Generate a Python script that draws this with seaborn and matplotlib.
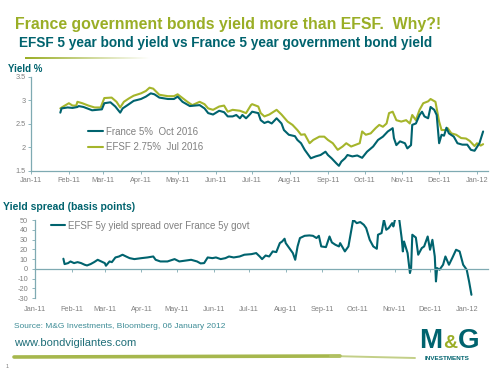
import numpy as np
import pandas as pd
import seaborn as sns
import matplotlib.pyplot as plt
import matplotlib.dates as mdates
from matplotlib.ticker import FuncFormatter, MultipleLocator
from matplotlib.colors import LinearSegmentedColormap

# values
france_dates = ["2011-01-25", "2011-01-26", "2011-01-31", "2011-02-04", "2011-02-08", "2011-02-09",
                "2011-02-13", "2011-02-16", "2011-02-20", "2011-02-24", "2011-02-28", "2011-03-02",
                "2011-03-07", "2011-03-11", "2011-03-15", "2011-03-17", "2011-03-21", "2011-03-26",
                "2011-04-01", "2011-04-05", "2011-04-09", "2011-04-12", "2011-04-16", "2011-04-23",
                "2011-04-28", "2011-05-01", "2011-05-05", "2011-05-11", "2011-05-19", "2011-05-23",
                "2011-05-26", "2011-05-30", "2011-06-04", "2011-06-08", "2011-06-11", "2011-06-15",
                "2011-06-18", "2011-06-21", "2011-06-23", "2011-06-26", "2011-06-29", "2011-07-01",
                "2011-07-06", "2011-07-08", "2011-07-11", "2011-07-14", "2011-07-17", "2011-07-21",
                "2011-07-25", "2011-07-27", "2011-07-31", "2011-08-05", "2011-08-07", "2011-08-10",
                "2011-08-13", "2011-08-18", "2011-08-22", "2011-08-26", "2011-08-30", "2011-09-01",
                "2011-09-04", "2011-09-08", "2011-09-10", "2011-09-12", "2011-09-15", "2011-09-17",
                "2011-09-21", "2011-09-25", "2011-09-29", "2011-10-03", "2011-10-08", "2011-10-12",
                "2011-10-16", "2011-10-20", "2011-10-24", "2011-10-25", "2011-10-27", "2011-10-30",
                "2011-11-03", "2011-11-05", "2011-11-08", "2011-11-09", "2011-11-12", "2011-11-15",
                "2011-11-17", "2011-11-19", "2011-11-22", "2011-11-24", "2011-11-27", "2011-11-29",
                "2011-12-01", "2011-12-03", "2011-12-05", "2011-12-07", "2011-12-09", "2011-12-13",
                "2011-12-16", "2011-12-20", "2011-12-24", "2011-12-27", "2011-12-30", "2012-01-03",
                "2012-01-06"]
france_yield = [2.74, 2.83, 2.85, 2.84, 2.86, 2.88,
                2.86, 2.83, 2.79, 2.80, 2.81, 2.94,
                2.96, 2.87, 2.74, 2.83, 2.90, 2.99,
                3.03, 3.08, 3.15, 3.13, 3.06, 3.03,
                3.03, 3.08, 2.97, 2.88, 2.90, 2.83,
                2.73, 2.70, 2.78, 2.75, 2.66, 2.66,
                2.69, 2.62, 2.69, 2.62, 2.70, 2.76,
                2.73, 2.58, 2.52, 2.55, 2.51, 2.62,
                2.51, 2.37, 2.27, 2.24, 2.16, 2.09,
                1.95, 1.77, 1.81, 1.84, 1.91, 1.84,
                1.77, 1.66, 1.61, 1.70, 1.77, 1.84,
                1.81, 1.83, 1.78, 1.91, 2.02, 2.16,
                2.23, 2.34, 2.41, 2.20, 2.05, 2.13,
                2.09, 1.98, 2.05, 2.48, 2.51, 2.69,
                2.76, 2.66, 2.62, 2.86, 2.80, 2.69,
                2.09, 2.27, 2.25, 2.42, 2.30, 2.23,
                2.09, 2.06, 2.06, 1.95, 1.93, 2.09,
                2.34]

efsf_dates = ["2011-01-25", "2011-01-28", "2011-02-01", "2011-02-04", "2011-02-07", "2011-02-08",
              "2011-02-12", "2011-02-17", "2011-02-22", "2011-02-27", "2011-03-02", "2011-03-08",
              "2011-03-12", "2011-03-15", "2011-03-18", "2011-03-22", "2011-03-26", "2011-04-01",
              "2011-04-05", "2011-04-08", "2011-04-11", "2011-04-16", "2011-04-23", "2011-04-28",
              "2011-05-01", "2011-05-05", "2011-05-09", "2011-05-13", "2011-05-19", "2011-05-23",
              "2011-05-26", "2011-05-30", "2011-06-04", "2011-06-08", "2011-06-11", "2011-06-15",
              "2011-06-21", "2011-06-26", "2011-06-30", "2011-07-01", "2011-07-06", "2011-07-08",
              "2011-07-11", "2011-07-15", "2011-07-21", "2011-07-25", "2011-07-30", "2011-08-03",
              "2011-08-07", "2011-08-10", "2011-08-13", "2011-08-17", "2011-08-20", "2011-08-25",
              "2011-08-29", "2011-09-01", "2011-09-05", "2011-09-09", "2011-09-13", "2011-09-16",
              "2011-09-20", "2011-09-24", "2011-09-27", "2011-09-29", "2011-10-02", "2011-10-06",
              "2011-10-10", "2011-10-13", "2011-10-16", "2011-10-19", "2011-10-21", "2011-10-24",
              "2011-10-27", "2011-10-31", "2011-11-04", "2011-11-07", "2011-11-09", "2011-11-12",
              "2011-11-15", "2011-11-18", "2011-11-22", "2011-11-24", "2011-11-28", "2011-12-01",
              "2011-12-03", "2011-12-07", "2011-12-08", "2011-12-11", "2011-12-15", "2011-12-19",
              "2011-12-23", "2011-12-26", "2011-12-30", "2012-01-01", "2012-01-04", "2012-01-06"]
efsf_yield = [2.83, 2.88, 2.94, 2.89, 2.89, 2.97,
              2.94, 2.89, 2.85, 2.85, 3.05, 3.06,
              2.97, 2.85, 2.97, 3.04, 3.10, 3.15,
              3.20, 3.27, 3.25, 3.12, 3.09, 3.09,
              3.13, 3.05, 2.97, 2.90, 2.97, 2.92,
              2.83, 2.80, 2.87, 2.89, 2.76, 2.80,
              2.78, 2.73, 2.90, 2.92, 2.87, 2.73,
              2.66, 2.70, 2.80, 2.70, 2.55, 2.48,
              2.37, 2.27, 2.28, 2.09, 2.16, 2.23,
              2.23, 2.16, 2.09, 1.95, 2.02, 2.09,
              2.02, 2.06, 2.09, 2.34, 2.27, 2.30,
              2.41, 2.48, 2.44, 2.51, 2.73, 2.76,
              2.58, 2.55, 2.58, 2.51, 2.69, 2.58,
              2.80, 2.94, 2.98, 3.03, 2.97, 2.55,
              2.37, 2.37, 2.41, 2.30, 2.27, 2.20,
              2.19, 2.14, 2.03, 2.09, 2.04, 2.07]

spread_dates = ["2011-01-25", "2011-01-26", "2011-01-29", "2011-01-31", "2011-02-03", "2011-02-06",
                "2011-02-09", "2011-02-12", "2011-02-14", "2011-02-17", "2011-02-20", "2011-02-23",
                "2011-02-26", "2011-03-01", "2011-03-02", "2011-03-05", "2011-03-07", "2011-03-10",
                "2011-03-13", "2011-03-16", "2011-03-19", "2011-03-22", "2011-03-26", "2011-04-01",
                "2011-04-06", "2011-04-11", "2011-04-13", "2011-04-17", "2011-04-23", "2011-04-29",
                "2011-05-03", "2011-05-13", "2011-05-18", "2011-05-21", "2011-05-24", "2011-05-27",
                "2011-05-31", "2011-06-03", "2011-06-07", "2011-06-11", "2011-06-14", "2011-06-18",
                "2011-06-23", "2011-06-27", "2011-07-03", "2011-07-07", "2011-07-10", "2011-07-12",
                "2011-07-15", "2011-07-18", "2011-07-21", "2011-07-24", "2011-07-27", "2011-07-29",
                "2011-07-31", "2011-08-01", "2011-08-04", "2011-08-07", "2011-08-09", "2011-08-11",
                "2011-08-13", "2011-08-17", "2011-08-21", "2011-08-24", "2011-08-27", "2011-08-29",
                "2011-08-31", "2011-09-04", "2011-09-07", "2011-09-09", "2011-09-12", "2011-09-15",
                "2011-09-16", "2011-09-20", "2011-09-23", "2011-09-27", "2011-09-30", "2011-10-03",
                "2011-10-06", "2011-10-08", "2011-10-11", "2011-10-14", "2011-10-17", "2011-10-18",
                "2011-10-21", "2011-10-23", "2011-10-25", "2011-10-27", "2011-10-30", "2011-10-31",
                "2011-11-02", "2011-11-05", "2011-11-07", "2011-11-08", "2011-11-09", "2011-11-12",
                "2011-11-14", "2011-11-15", "2011-11-16", "2011-11-19", "2011-11-21", "2011-11-24",
                "2011-11-26", "2011-11-29", "2011-12-01", "2011-12-03", "2011-12-05", "2011-12-06",
                "2011-12-07", "2011-12-09", "2011-12-12", "2011-12-14", "2011-12-17", "2011-12-20",
                "2011-12-23", "2011-12-26", "2011-12-29", "2012-01-01", "2012-01-03", "2012-01-05"]
spread_bp = [10.3, 4.8, 5.8, 7.5, 5.8, 6.8,
             5.8, 4.1, 3.4, 4.8, 6.8, 9.2,
             7.5, 5.8, 3.1, 7.5, 6.8, 11.6,
             12.6, 14.4, 12.6, 10.9, 9.9, 10.9,
             11.6, 12.6, 9.2, 7.5, 7.5, 9.9,
             7.5, 9.2, 7.5, 5.5, 5.8, 11.6,
             10.9, 11.6, 9.9, 10.9, 12.6, 11.6,
             12.6, 14.4, 15.0, 16.1, 12.6, 9.9,
             13.6, 12.6, 17.8, 17.1, 26.3, 28.0,
             30.8, 26.3, 21.2, 16.1, 9.2, 22.9,
             31.5, 33.8, 34.2, 33.8, 31.5, 33.8,
             22.9, 22.2, 33.1, 27.0, 24.6, 22.9,
             26.3, 17.8, 22.9, 50.3, 46.8, 47.9,
             45.1, 41.7, 29.7, 22.9, 20.5, 34.9,
             36.6, 50.3, 40.0, 41.7, 46.8, 43.4,
             53.7, 50.3, 31.5, 17.8, 28.0, 16.1,
             -4.4, 0.7, 34.9, 32.0, 14.4, 21.2,
             22.9, 33.1, 19.5, 29.7, 12.6, -13.0,
             0.7, -1.0, 4.1, 12.6, 4.1, 11.6,
             19.5, 17.8, 4.1, -1.0, -13.0, -26.7]

TEAL = '#00636E'
OLIVE = '#A5B52B'
TITLE_OLIVE = '#9AAE26'
AXIS = '#7FAAB2'
GREY = '#808080'

sns.set_style('white')
plt.rcParams['font.family'] = ['Liberation Sans', 'DejaVu Sans']


def px(x, y):
    return x / 500, 1 - y / 375


def style_axis(ax):
    for s in ['top', 'right']:
        ax.spines[s].set_visible(False)
    for s in ['left', 'bottom']:
        ax.spines[s].set_color(AXIS)
        ax.spines[s].set_linewidth(0.9)
    ax.tick_params(bottom=True, left=True, colors=AXIS, labelcolor=GREY, labelsize=5.3,
                   length=2, width=0.6, direction='out')
    ax.xaxis.set_major_locator(mdates.MonthLocator())
    ax.xaxis.set_major_formatter(mdates.DateFormatter('%b-%y'))
    ax.yaxis.set_major_formatter(FuncFormatter(lambda v, p: f'{v:g}'))
    ax.set_xlabel('')
    ax.set_ylabel('')


fig = plt.figure(figsize=(5, 3.75), dpi=100)

# top panel: yields
ax1 = fig.add_axes([0.062, 0.544, 0.914, 0.251])
sns.lineplot(x=pd.to_datetime(france_dates), y=france_yield, ax=ax1, color=TEAL, lw=1.5,
             label='France 5%  Oct 2016', zorder=3)
sns.lineplot(x=pd.to_datetime(efsf_dates), y=efsf_yield, ax=ax1, color=OLIVE, lw=1.5,
             label='EFSF 2.75%  Jul 2016', zorder=2)
style_axis(ax1)
ax1.set_xlim(pd.Timestamp('2011-01-01'), pd.Timestamp('2012-01-10'))
ax1.set_ylim(1.5, 3.5)
ax1.yaxis.set_major_locator(MultipleLocator(0.5))
ax1.tick_params(axis='x', pad=2)
ax1.tick_params(axis='y', pad=2)
ax1.legend(loc='upper left', bbox_to_anchor=(0.125, 0.47), frameon=False, fontsize=7,
           labelcolor=GREY, handlelength=1.5, handletextpad=0.3, labelspacing=0.55,
           borderpad=0, borderaxespad=0)

# bottom panel: spread
ax2 = fig.add_axes([0.07, 0.2053, 0.906, 0.208])
sns.lineplot(x=pd.to_datetime(spread_dates), y=spread_bp, ax=ax2, color=TEAL, lw=1.5,
             label='EFSF 5y yield spread over France 5y govt')
style_axis(ax2)
ax2.set_xlim(pd.Timestamp('2011-01-01'), pd.Timestamp('2012-01-19'))
ax2.set_ylim(-30, 50)
ax2.yaxis.set_major_locator(MultipleLocator(10))
ax2.spines['bottom'].set_position(('data', 0))
ax2.tick_params(axis='x', pad=25)
ax2.tick_params(axis='y', pad=3)
ax2.legend(loc='upper left', bbox_to_anchor=(0.035, 0.99), frameon=False, fontsize=7,
           labelcolor=GREY, handlelength=1.5, handletextpad=0.3, borderpad=0, borderaxespad=0)

# titles and labels
fig.text(*px(15, 24), 'France government bonds yield more than EFSF.  Why?!', color=TITLE_OLIVE,
         fontsize=11.4, fontweight='bold', va='center')
fig.text(*px(19, 43), 'EFSF 5 year bond yield vs France 5 year government bond yield', color=TEAL,
         fontsize=9.8, fontweight='bold', va='center')
fig.text(*px(8, 69), 'Yield %', color=TEAL, fontsize=7, fontweight='bold', va='center')
fig.text(*px(3, 207), 'Yield spread (basis points)', color=TEAL, fontsize=7.5, fontweight='bold',
         va='center')

# fading rule under the title
grad = fig.add_axes([*px(25, 59), 125 / 500, 2.5 / 375])
fade = LinearSegmentedColormap.from_list('fade', [TITLE_OLIVE, '#FFFFFF'])
grad.imshow(np.linspace(0, 1, 200)[None, :], cmap=fade, aspect='auto')
grad.axis('off')

# footer
fig.text(*px(14, 327), 'Source: M&G Investments, Bloomberg, 06 January 2012', color='#3D8C96',
         fontsize=6, va='center')
fig.text(*px(14, 343), 'www.bondvigilantes.com', color='#1E6E78', fontsize=8, va='center')
fig.text(*px(6, 366), '1', color=GREY, fontsize=4, va='center')

brush = fig.add_axes([0, 0, 1, 1], zorder=-1)
brush.set_xlim(0, 500)
brush.set_ylim(375, 0)
brush.axis('off')
brush.plot([14, 340], [357, 356], color='#9DB03A', lw=2.6, solid_capstyle='round', alpha=0.9)
brush.plot([330, 415], [356, 358], color='#B5C46A', lw=1.4, solid_capstyle='round', alpha=0.8)

# logo
fig.text(*px(419, 341), 'M', color=TEAL, fontsize=20, fontweight='bold', va='center')
fig.text(*px(443, 344), '&', color=TITLE_OLIVE, fontsize=14, fontweight='bold', va='center')
fig.text(*px(458, 341), 'G', color=TEAL, fontsize=20, fontweight='bold', va='center')
fig.text(*px(425, 359), 'INVESTMENTS', color=TEAL, fontsize=4.6, fontweight='bold', va='center')

fig.savefig('out.png', dpi=100)
